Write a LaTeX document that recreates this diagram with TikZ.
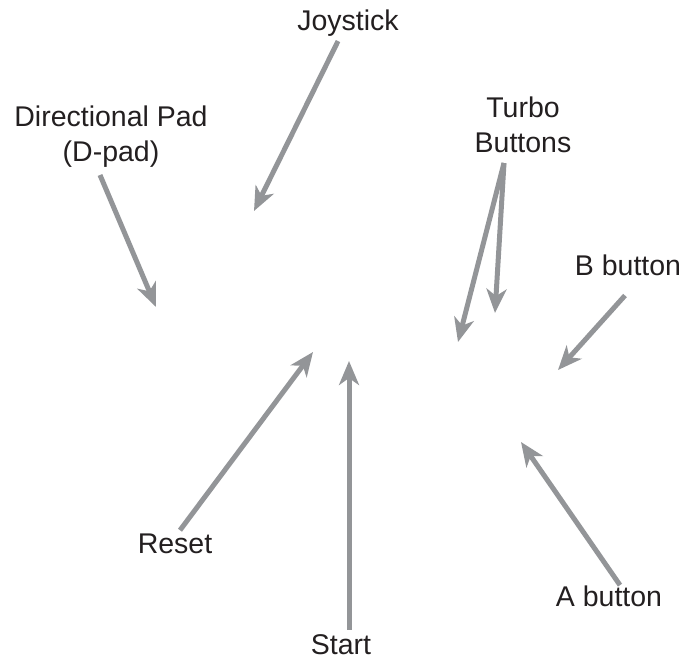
\documentclass[tikz,border=0pt]{standalone}
\usepackage{fontspec}
\setmainfont{Liberation Sans}
\usetikzlibrary{arrows.meta}
\definecolor{pointergray}{HTML}{939598}
\definecolor{labelblack}{HTML}{231F20}
\begin{document}
\begin{tikzpicture}[
			x=1pt, y=-1pt,
			part/.style = {inner sep=0pt, align=center, text=labelblack, font=\fontsize{28.5}{35}\selectfont},
			pointer/.style = {draw=pointergray, line width=5pt, -{Stealth[length=24pt, width=20pt, inset=7pt]}},
			]
			\useasboundingbox (0,0) rectangle (684,659);
			% labels
			\node[part, anchor=base] (joy) at (348,30) {Joystick};
			\node[part, anchor=south] (dpad) at (111,168) {Directional Pad\\(D-pad)};
			\node[part, anchor=south] (turbo) at (523,153) {Turbo\\Buttons};
			\node[part, anchor=base] (bbtn) at (628,275) {B button};
			\node[part, anchor=base] (abtn) at (609,606) {A button};
			\node[part, anchor=base] (reset) at (175,553) {Reset};
			\node[part, anchor=base] (start) at (341,654) {Start};
			% arrow tips
			\coordinate (joyTip) at (254,211);
			\coordinate (dpadTip) at (156,307);
			\coordinate (turboTipL) at (458,342);
			\coordinate (turboTipR) at (495,313);
			\coordinate (bTip) at (558,370);
			\coordinate (aTip) at (521,442);
			\coordinate (resetTip) at (313,352);
			\coordinate (startTip) at (349,361);
			% pointers
			\draw[pointer] ([xshift=-10pt,yshift=-5pt]joy.south) -- (joyTip);
			\draw[pointer] ([xshift=-11pt,yshift=-7pt]dpad.south) -- (dpadTip);
			\draw[pointer] ([xshift=-19pt,yshift=-10pt]turbo.south) -- (turboTipL);
			\draw[pointer] ([xshift=-19pt,yshift=-10pt]turbo.south) -- (turboTipR);
			\draw[pointer] ([xshift=-3pt,yshift=-20pt]bbtn.south) -- (bTip);
			\draw[pointer] ([xshift=11pt]abtn.north) -- (aTip);
			\draw[pointer] ([xshift=5pt,yshift=3pt]reset.north) -- (resetTip);
			\draw[pointer] ([xshift=8pt,yshift=4pt]start.north) -- (startTip);
		\end{tikzpicture}
\end{document}
